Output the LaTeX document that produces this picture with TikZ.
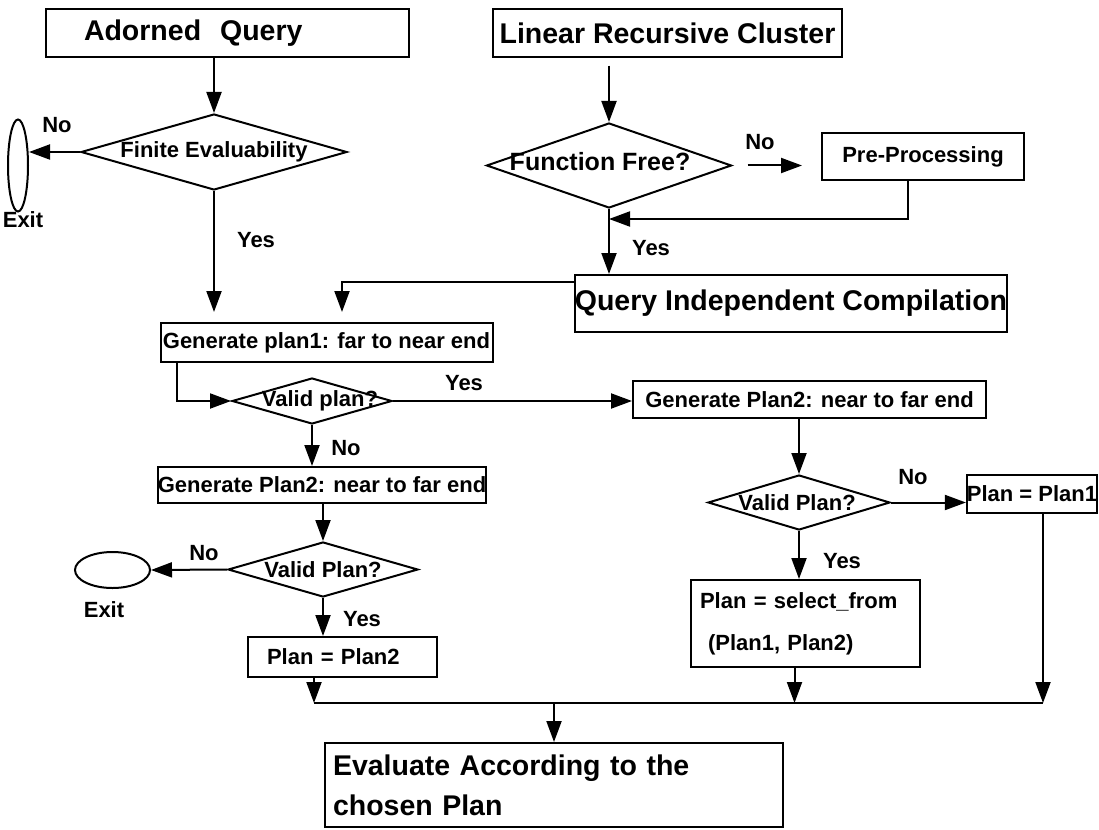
\documentclass[tikz,border=0pt]{standalone}
\usepackage{fontspec}
\setmainfont{Liberation Sans}
\usetikzlibrary{arrows.meta,shapes.geometric}
\tikzset{
  big/.style={font=\fontsize{28.5}{40}\selectfont\bfseries},
  small/.style={font=\fontsize{22}{42}\selectfont\bfseries},
  box/.style={draw, line width=2pt, rectangle, inner sep=0pt, small},
  dec/.style={draw, line width=2pt, diamond, inner sep=0pt},
  term/.style={draw, line width=2pt, ellipse, inner sep=0pt},
  arr/.style={line width=2pt, -{Triangle[length=21pt,width=15pt]}},
}
\begin{document}
\begin{tikzpicture}[x=1pt,y=-1pt]
\useasboundingbox (0,0) rectangle (1099,829);
% Left column: adorned query
\node[box,big,minimum width=363pt,minimum height=48pt,text width=286pt,align=left] (adorned-query) at (227,33.5) {Adorned~~Query};
\node[dec,minimum width=266pt,minimum height=76pt,label={[small]center:Finite Evaluability}] (finite-eval) at (214,152) {};
\node[term,minimum width=20pt,minimum height=92pt] (exit-1) at (18,165.5) {};
\node[small] (exit-1-text) at (23,220) {Exit};
\node[small] (no-1) at (57,125) {No};
\node[small] (yes-1) at (256,240) {Yes};
% Right column: linear recursive cluster
\node[box,big,minimum width=349pt,minimum height=47.5pt] (lin-rec) at (667.5,33) {Linear Recursive Cluster};
\node[dec,minimum width=245pt,minimum height=85pt,label={[font=\fontsize{25}{30}\selectfont\bfseries,xshift=-9pt,yshift=4pt]center:Function Free?}] (func-free) at (609,165.5) {};
\node[box,minimum width=202pt,minimum height=47pt] (pre-proc) at (923,156.5) {Pre-Processing};
\node[small] (no-2) at (760,142) {No};
\node[small] (yes-2) at (651,248) {Yes};
\node[box,big,minimum width=428pt,minimum height=57pt] (qic) at (791,303.5) {Query Independent Compilation};
\coordinate (free-join) at ([yshift=-10pt]func-free.south);
% Plan generation
\node[box,minimum width=332pt,minimum height=39pt] (gen-plan1) at (326.5,342.5) {Generate plan1: far to near end};
\node[dec,minimum width=160pt,minimum height=46pt,label={[small,xshift=8pt]center:Valid plan?}] (valid-1) at (312,401) {};
\node[small] (yes-3) at (464,383) {Yes};
\node[small] (no-3) at (346,448) {No};
\node[box,minimum width=323pt,minimum height=36pt] (gen-plan2-l) at (322,485) {Generate Plan2: near to far end};
\node[dec,minimum width=190pt,minimum height=55pt,label={[small]center:Valid Plan?}] (valid-2) at (323,569.5) {};
\node[term,minimum width=75pt,minimum height=36pt] (exit-2) at (112.5,570) {};
\node[small] (exit-2-text) at (104,610) {Exit};
\node[small] (no-4) at (204,553) {No};
\node[small] (yes-4) at (362,619) {Yes};
\node[box,minimum width=189pt,minimum height=40pt,text width=151pt,align=left] (plan-2) at (342.5,657) {Plan = Plan2};
\node[box,minimum width=353pt,minimum height=37pt] (gen-plan2-r) at (809.5,399.5) {Generate Plan2: near to far end};
\node[dec,minimum width=182pt,minimum height=55pt,label={[small,xshift=-2pt]center:Valid Plan?}] (valid-3) at (799,502.5) {};
\node[small] (no-5) at (913,477) {No};
\node[small] (yes-5) at (842,561) {Yes};
\node[box,minimum width=130pt,minimum height=38pt] (plan-1) at (1032,494) {Plan = Plan1};
\node[box,minimum width=229pt,minimum height=87pt,text width=211pt,align=left] (select) at (805.5,623.5) {Plan = select\_from\\\hspace*{8pt}(Plan1, Plan2)};
% Final evaluation
\node[box,big,minimum width=458pt,minimum height=84pt,text width=442pt,align=left] (evaluate) at (554,785) {Evaluate According to the\\chosen Plan};
\coordinate (merge-left) at (314,703);
\coordinate (merge-right) at (1043,703);
% Arrows
\draw[arr] (finite-eval.north |- adorned-query.south) -- (finite-eval.north);
\draw[arr] (finite-eval.west) -- (finite-eval.west -| exit-1.east);
\draw[arr,shorten >=10pt] (finite-eval.south) -- (finite-eval.south |- gen-plan1.north);
\draw[arr,shorten <=8pt] (lin-rec.south -| func-free.north) -- (func-free.north);
\draw[arr,shorten <=15pt,shorten >=19pt] (func-free.east) -- (func-free.east -| pre-proc.west);
\draw[arr] ([xshift=-15pt]pre-proc.south) |- (free-join);
\draw[arr] (func-free.south) -- (func-free.south |- qic.north);
\draw[arr,shorten >=10pt] ([yshift=-8pt]qic.north west) -| ([xshift=15.5pt]gen-plan1.north);
\draw[arr] ([xshift=17.5pt]gen-plan1.south west) |- (valid-1.west);
\draw[arr] (valid-1.east) -- (valid-1.east -| gen-plan2-r.west);
\draw[arr] (valid-1.south) -- (valid-1.south |- gen-plan2-l.north);
\draw[arr] (gen-plan2-l.south -| valid-2.north) -- (valid-2.north);
\draw[arr] (valid-2.west) -- (exit-2.east);
\draw[arr] (valid-2.south) -- (valid-2.south |- plan-2.north);
\draw[arr] (gen-plan2-r.south -| valid-3.north) -- (valid-3.north);
\draw[arr] (valid-3.east) -- (valid-3.east -| plan-1.west);
\draw[arr] (valid-3.south) -- (valid-3.south |- select.north);
% Merge line
\draw[line width=2pt] (merge-left) -- (merge-right);
\draw[arr] (plan-2.south -| merge-left) -- (merge-left);
\draw[arr] ([xshift=-11pt]select.south) -- ([xshift=-11pt]select.south |- merge-left);
\draw[arr] (plan-1.south -| merge-right) -- (merge-right);
\draw[arr] (evaluate.north |- merge-left) -- (evaluate.north);
\end{tikzpicture}
\end{document}
